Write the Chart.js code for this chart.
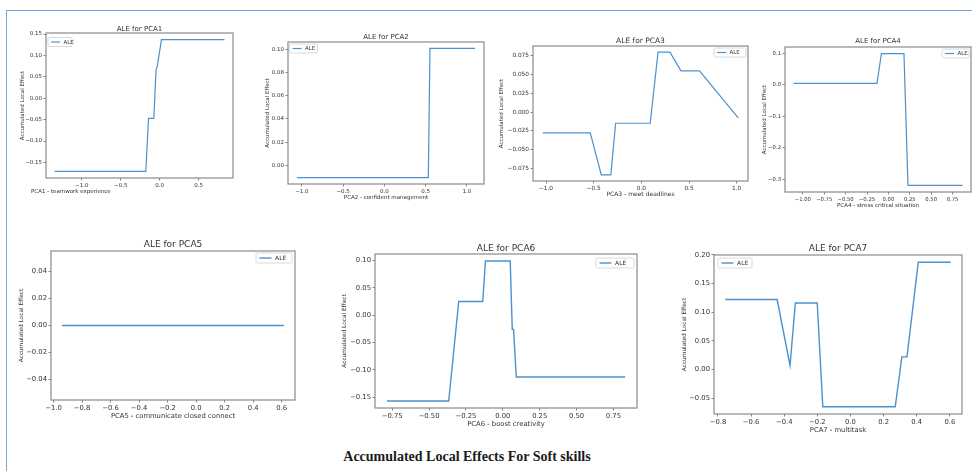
<!DOCTYPE html>
<html>
<head>
<meta charset="utf-8">
<script src="https://cdn.jsdelivr.net/npm/chart.js@4.4.0/dist/chart.umd.min.js"></script>
<style>
  html, body { margin: 0; padding: 0; background: #fff; width: 972px; height: 471px; overflow: hidden; position: relative; }
  canvas { position: absolute; }
  #frameTop { position: absolute; left: 6px; top: 10px; width: 966px; height: 1px; background: #7ea3dd; }
  #frameLeft { position: absolute; left: 6px; top: 10px; width: 1px; height: 461px; background: #7ea3dd; }
  #caption { position: absolute; left: 0; width: 934px; top: 449px; text-align: center;
             font: bold 14px "Liberation Serif"; color: #1a1a1a; }
</style>
</head>
<body>
<div id="frameTop"></div>
<div id="frameLeft"></div>
<div id="caption">Accumulated Local Effects For Soft skills</div>
<script>
// ALE Kurven
const pca1X = [-1.35, -0.178, -0.143, -0.075, -0.046, -0.033, 0.023, 0.832];
const pca1Y = [-0.171, -0.171, -0.047, -0.047, 0.068, 0.072, 0.137, 0.137];
const pca2X = [-1.06, 0.533, 0.553, 1.10];
const pca2Y = [-0.0103, -0.0103, 0.1006, 0.1006];
const pca3X = [-1.034, -0.536, -0.42, -0.32, -0.27, 0.093, 0.175, 0.30, 0.415, 0.61, 1.016];
const pca3Y = [-0.028, -0.028, -0.084, -0.084, -0.015, -0.015, 0.080, 0.080, 0.055, 0.055, -0.0077];
const pca4X = [-1.11, -0.133, -0.082, 0.182, 0.229, 0.867];
const pca4Y = [0.005, 0.005, 0.1, 0.1, -0.32, -0.32];
const pca5X = [-0.94, 0.615];
const pca5Y = [0, 0];
const pca6X = [-0.786, -0.367, -0.299, -0.136, -0.118, 0.050, 0.064, 0.073, 0.091, 0.829];
const pca6Y = [-0.157, -0.157, 0.025, 0.025, 0.099, 0.099, -0.026, -0.026, -0.113, -0.113];
const pca7X = [-0.756, -0.443, -0.365, -0.333, -0.201, -0.167, 0.270, 0.310, 0.341, 0.409, 0.605];
const pca7Y = [0.122, 0.122, 0.007, 0.116, 0.116, -0.065, -0.065, 0.022, 0.022, 0.187, 0.187];

// Achsenticks
const pca1XTicks = [-1.0, -0.5, 0.0, 0.5];
const pca1YTicks = [-0.15, -0.10, -0.05, 0.00, 0.05, 0.10, 0.15];
const pca2XTicks = [-1.0, -0.5, 0.0, 0.5, 1.0];
const pca2YTicks = [0.00, 0.02, 0.04, 0.06, 0.08, 0.10];
const pca3XTicks = [-1.0, -0.5, 0.0, 0.5, 1.0];
const pca3YTicks = [-0.075, -0.050, -0.025, 0.000, 0.025, 0.050, 0.075];
const pca4XTicks = [-1.00, -0.75, -0.50, -0.25, 0.00, 0.25, 0.50, 0.75];
const pca4YTicks = [-0.3, -0.2, -0.1, 0.0, 0.1];
const pca5XTicks = [-1.0, -0.8, -0.6, -0.4, -0.2, 0.0, 0.2, 0.4, 0.6];
const pca5YTicks = [-0.04, -0.02, 0.00, 0.02, 0.04];
const pca6XTicks = [-0.75, -0.50, -0.25, 0.00, 0.25, 0.50, 0.75];
const pca6YTicks = [-0.15, -0.10, -0.05, 0.00, 0.05, 0.10];
const pca7XTicks = [-0.8, -0.6, -0.4, -0.2, 0.0, 0.2, 0.4, 0.6];
const pca7YTicks = [-0.05, 0.00, 0.05, 0.10, 0.15, 0.20];

const titles = ["ALE for PCA1", "ALE for PCA2", "ALE for PCA3", "ALE for PCA4", "ALE for PCA5", "ALE for PCA6", "ALE for PCA7"];
const xLabels = ["PCA1 - teamwork experience", "PCA2 - confident management", "PCA3 - meet deadlines",
                 "PCA4 - stress critical situation", "PCA5 - communicate closed connect",
                 "PCA6 - boost creativity", "PCA7 - multitask"];
const yLabel = "Accumulated Local Effect";
const legendLabel = "ALE";

const lineColor = '#4b91cd';
const spineColor = '#8a8a8a';
const textColor = '#333333';
const FONT = '"DejaVu Sans"';

// Zahlen wie matplotlib (mit echtem Minus)
function fmt(v, d) {
  const s = Math.abs(v).toFixed(d);
  return (v < 0 && Number(s) !== 0 ? '\u2212' : '') + s;
}

// matplotlib Rand: 5% auf jeder Seite
function limits(arr) {
  let lo = Math.min(...arr), hi = Math.max(...arr);
  if (hi - lo === 0) { lo -= 0.05; hi += 0.05; }
  const m = (hi - lo) * 0.05;
  return [lo - m, hi + m];
}

// Rahmen, Titel, Achsentitel und Legende
const axesDeco = {
  id: 'axesDeco',
  afterDatasetsDraw(chart, args, o) {
    const {ctx, chartArea: a} = chart;
    const cx = (a.left + a.right) / 2, cy = (a.top + a.bottom) / 2;
    ctx.save();

    // Legende
    const L = o.legend;
    const lx = L.side === 'left' ? a.left + L.dx : a.right - L.dx - L.w;
    const ly = a.top + L.dy;
    ctx.fillStyle = 'rgba(255,255,255,0.9)';
    ctx.strokeStyle = '#d0d0d0';
    ctx.lineWidth = 0.8;
    ctx.beginPath();
    ctx.roundRect(lx, ly, L.w, L.h, 1.5);
    ctx.fill(); ctx.stroke();
    ctx.strokeStyle = lineColor;
    ctx.lineWidth = o.lw;
    ctx.beginPath();
    ctx.moveTo(lx + L.h * 0.35, ly + L.h / 2);
    ctx.lineTo(lx + L.h * 0.35 + L.line, ly + L.h / 2);
    ctx.stroke();
    ctx.fillStyle = textColor;
    ctx.font = L.font + 'px ' + FONT;
    ctx.textAlign = 'left'; ctx.textBaseline = 'middle';
    ctx.fillText(legendLabel, lx + L.h * 0.35 + L.line + L.font * 0.6, ly + L.h / 2 + 0.5);

    // Rahmen
    ctx.strokeStyle = spineColor;
    ctx.lineWidth = 1.2;
    ctx.strokeRect(a.left, a.top, a.right - a.left, a.bottom - a.top);

    // Titel
    ctx.fillStyle = textColor;
    ctx.textBaseline = 'middle';
    ctx.textAlign = 'center';
    ctx.font = o.titleSize + 'px ' + FONT;
    ctx.fillText(o.title, cx, a.top + o.titleDy);

    // x Beschriftung
    ctx.font = o.labelSize + 'px ' + FONT;
    if (o.xAlign === 'left') {
      ctx.textAlign = 'left';
      ctx.fillText(o.xlabel, a.left + o.xDx, a.bottom + o.xDy);
    } else {
      ctx.fillText(o.xlabel, cx, a.bottom + o.xDy);
    }

    // y Beschriftung
    ctx.font = o.yLabelSize + 'px ' + FONT;
    ctx.textAlign = 'center';
    ctx.translate(a.left + o.yDx, cy);
    ctx.rotate(-Math.PI / 2);
    ctx.fillText(yLabel, 0, 0);
    ctx.restore();
  }
};

const M = {l: 50, t: 22, r: 16, b: 34}; // Platz um die Achsenbox

function makePanel(p) {
  const [bl, bt, br, bb] = p.box;
  const c = document.createElement('canvas');
  c.width = br - bl + M.l + M.r;
  c.height = bb - bt + M.t + M.b;
  c.style.left = (bl - M.l) + 'px';
  c.style.top = (bt - M.t) + 'px';
  document.body.appendChild(c);

  const [xmin, xmax] = limits(p.x);
  const [ymin, ymax] = limits(p.y);

  const tickFont = {size: p.tick, family: FONT};
  new Chart(c, {
    type: 'line',
    data: {
      datasets: [{
        label: legendLabel,
        data: p.x.map((v, i) => ({x: v, y: p.y[i]})),
        borderColor: lineColor,
        borderWidth: p.lw,
        pointRadius: 0,
        tension: 0,
        fill: false
      }]
    },
    options: {
      responsive: false,
      animation: false,
      devicePixelRatio: 1,
      layout: {padding: {top: M.t, right: M.r, left: 0, bottom: 0}},
      plugins: {
        legend: {display: false},
        tooltip: {enabled: false},
        axesDeco: {
          title: p.title, xlabel: p.xlabel, lw: p.lw,
          titleSize: p.titleSize, titleDy: p.titleDy,
          labelSize: p.label, yLabelSize: p.ylab,
          xDy: p.xDy, xAlign: p.xAlign, xDx: p.xDx, yDx: p.yDx,
          legend: p.legend
        }
      },
      scales: {
        x: {
          type: 'linear', min: xmin, max: xmax,
          afterFit: s => { s.height = M.b; },
          afterBuildTicks: s => { s.ticks = p.xt.map(v => ({value: v})); },
          ticks: {callback: v => fmt(v, p.xd), font: tickFont, color: textColor, padding: 1.5,
                  maxRotation: 0, autoSkip: false},
          grid: {drawOnChartArea: false, drawTicks: true, tickLength: 2.5, tickColor: '#666', tickWidth: 0.8},
          border: {display: false}
        },
        y: {
          type: 'linear', min: ymin, max: ymax,
          afterFit: s => { s.width = M.l; },
          afterBuildTicks: s => { s.ticks = p.yt.map(v => ({value: v})); },
          ticks: {callback: v => fmt(v, p.yd), font: tickFont, color: textColor, padding: 1.5, autoSkip: false},
          grid: {drawOnChartArea: false, drawTicks: true, tickLength: 2.5, tickColor: '#666', tickWidth: 0.8},
          border: {display: false}
        }
      }
    },
    plugins: [axesDeco]
  });
}

const smallLegend = (side, dx, dy, w) => ({side, dx, dy, w, h: 9, line: 9, font: 5.5});
const bigLegend = (side, dx, dy, w) => ({side, dx, dy, w, h: 10, line: 12, font: 6});

const panels = [
  {box: [46, 33, 233, 178], x: pca1X, y: pca1Y, xt: pca1XTicks, yt: pca1YTicks, xd: 1, yd: 2,
   tick: 5.5, titleSize: 7, label: 5.5, ylab: 5.5, lw: 1.2, titleDy: -4, xDy: 14, xAlign: 'left', xDx: -15, yDx: -23,
   legend: smallLegend('left', 2, 4.5, 24)},
  {box: [288, 42, 484, 184], x: pca2X, y: pca2Y, xt: pca2XTicks, yt: pca2YTicks, xd: 1, yd: 2,
   tick: 5.5, titleSize: 7, label: 5.5, ylab: 5.5, lw: 1.2, titleDy: -5, xDy: 13.5, yDx: -20,
   legend: smallLegend('left', 1.5, 2, 28)},
  {box: [533, 46, 748, 181], x: pca3X, y: pca3Y, xt: pca3XTicks, yt: pca3YTicks, xd: 1, yd: 3,
   tick: 5.8, titleSize: 7.5, label: 6, ylab: 5.5, lw: 1.2, titleDy: -5, xDy: 13, yDx: -31,
   legend: smallLegend('right', 2, 2, 32)},
  {box: [785, 47, 971, 192], x: pca4X, y: pca4Y, xt: pca4XTicks, yt: pca4YTicks, xd: 2, yd: 1,
   tick: 5.3, titleSize: 7, label: 5.5, ylab: 5.5, lw: 1.2, titleDy: -6, xDy: 14, yDx: -20,
   legend: smallLegend('right', 2, 2, 27)},
  {box: [51, 251, 295, 400], x: pca5X, y: pca5Y, xt: pca5XTicks, yt: pca5YTicks, xd: 1, yd: 2,
   tick: 6.8, titleSize: 9, label: 6.8, ylab: 5.8, lw: 1.4, titleDy: -6, xDy: 16, yDx: -30,
   legend: bigLegend('right', 3, 2, 36)},
  {box: [375, 254, 637, 408], x: pca6X, y: pca6Y, xt: pca6XTicks, yt: pca6YTicks, xd: 2, yd: 2,
   tick: 6.8, titleSize: 9, label: 6.8, ylab: 5.8, lw: 1.4, titleDy: -5, xDy: 16, yDx: -31,
   legend: bigLegend('right', 3, 4, 38)},
  {box: [714, 255, 962, 414], x: pca7X, y: pca7Y, xt: pca7XTicks, yt: pca7YTicks, xd: 1, yd: 2,
   tick: 6.8, titleSize: 9, label: 6.8, ylab: 5.8, lw: 1.4, titleDy: -6, xDy: 16, yDx: -30,
   legend: bigLegend('left', 4, 3, 34)}
];

panels.forEach((p, i) => {
  p.title = titles[i];
  p.xlabel = xLabels[i];
  makePanel(p);
});
</script>
</body>
</html>
